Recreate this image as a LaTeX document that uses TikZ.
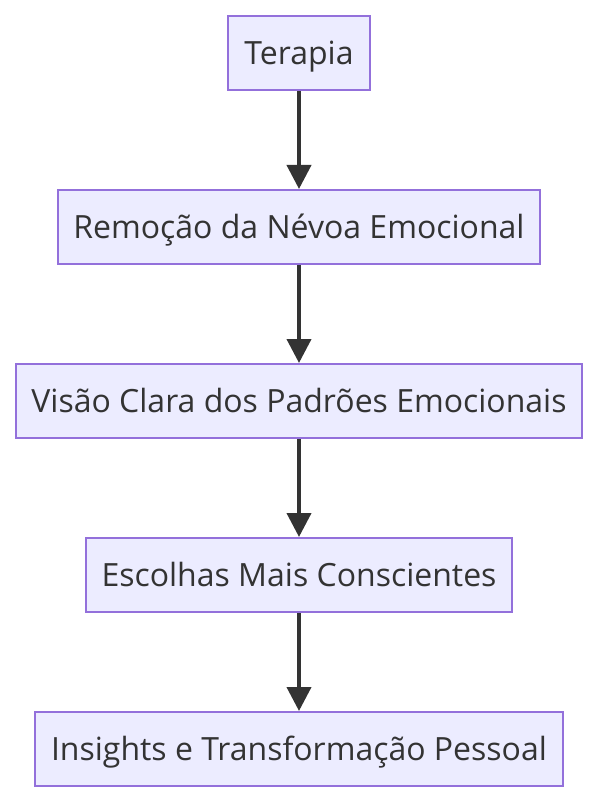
\documentclass[tikz,border=0pt]{standalone}
\usepackage{fontspec}
\setmainfont{Open Sans}
\usetikzlibrary{arrows.meta}
\definecolor{nodefill}{HTML}{ECECFF}
\definecolor{nodeline}{HTML}{9370DB}
\definecolor{edgecol}{HTML}{333333}
\definecolor{txtcol}{HTML}{333333}
\tikzset{
  flowbox/.style={draw=nodeline, fill=nodefill, line width=2pt, minimum height=74pt, inner sep=0pt, text height=22.8pt, text depth=0pt, text=txtcol, font=\fontsize{32}{38}\selectfont},
  flowarrow/.style={draw=edgecol, line width=4pt, -{Triangle[length=24pt,width=24pt]}, shorten >=0pt}
}
\begin{document}
\begin{tikzpicture}[x=1pt,y=-1pt]
\useasboundingbox (0,0) rectangle (597,802);
\node[flowbox, minimum width=142pt] (a) at (299,53) {Terapia};
\node[flowbox, minimum width=482pt] (b) at (299,227) {Remoção da Névoa Emocional};
\node[flowbox, minimum width=566pt] (c) at (299,401) {Visão Clara dos Padrões Emocionais};
\node[flowbox, minimum width=426pt] (d) at (299,575) {Escolhas Mais Conscientes};
\node[flowbox, minimum width=528pt] (e) at (299,749) {Insights e Transformação Pessoal};
\draw[flowarrow] (a) -- (b);
\draw[flowarrow] (b) -- (c);
\draw[flowarrow] (c) -- (d);
\draw[flowarrow] (d) -- (e);
\end{tikzpicture}
\end{document}
